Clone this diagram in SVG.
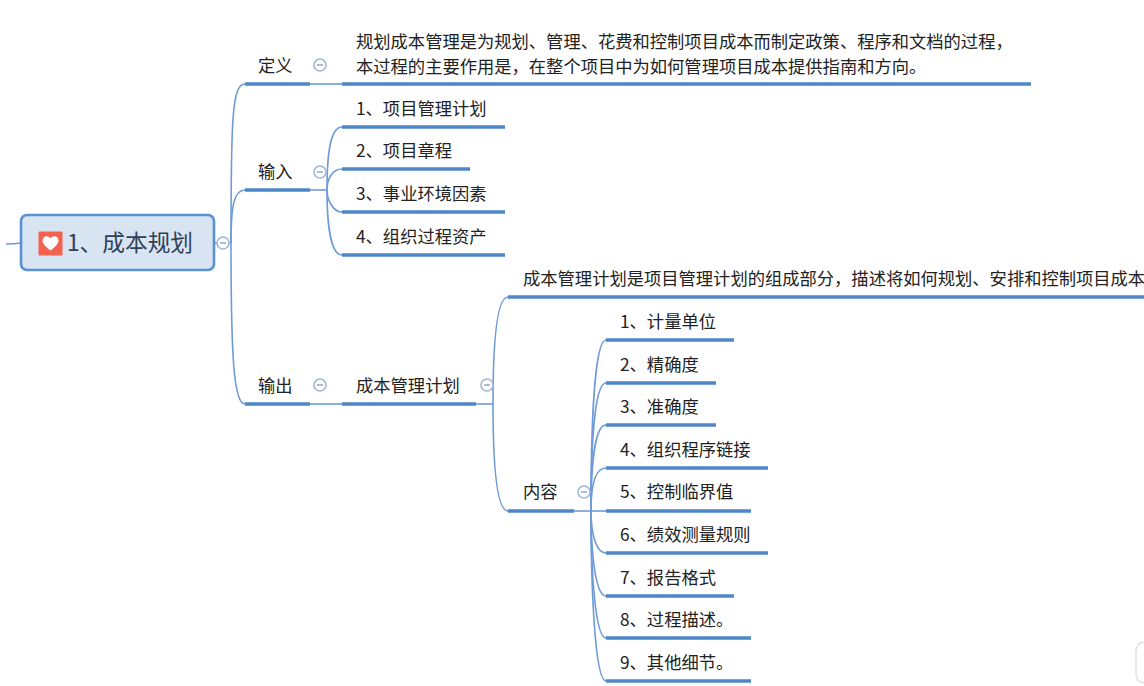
<svg xmlns="http://www.w3.org/2000/svg" width="1144" height="686" viewBox="0 0 1144 686">
<style>
text{font-family:"Noto Sans CJK SC","Liberation Sans",sans-serif;font-size:17.3px;fill:#222;}
.c{fill:none;stroke:#6f9bd6;stroke-width:1.6;}
.u{fill:none;stroke:#4d86c9;stroke-width:3.4;}
.m circle{fill:#fff;stroke:#9db7d8;stroke-width:1.6;}
.m line{stroke:#8aa0bc;stroke-width:1.4;}
</style>
<defs>
<g id="minus" class="m"><circle r="6"/><line x1="-3" x2="3" y1="0" y2="0"/></g>
</defs>
<g id="connectors">
<path class="c" d="M6 244 Q14 244 21 243"/>
<path class="c" d="M214 243H231"/>
<path class="c" d="M231 243C231 120 232 84 245 84"/>
<path class="c" d="M231 243C231 205 234 190 245 190"/>
<path class="c" d="M231 243C231 360 234 404 245 404"/>
<path class="c" d="M310 84H342"/>
<path class="c" d="M310 190H327"/>
<path class="c" d="M327 190C327 150 331 127 342 127"/>
<path class="c" d="M327 190C327 178 333 169 342 169"/>
<path class="c" d="M327 190C327 200 333 212 342 212"/>
<path class="c" d="M327 190C327 225 331 255 342 255"/>
<path class="c" d="M310 404H342"/>
<path class="c" d="M476 404H493"/>
<path class="c" d="M493 404C493 340 497 297 508 297"/>
<path class="c" d="M493 404C493 470 497 511 508 511"/>
<path class="c" d="M574 511H591"/>
<path class="c" d="M591 511C591 420 595 340 606 340"/>
<path class="c" d="M591 511C591 440 595 383 606 383"/>
<path class="c" d="M591 511C591 465 595 425 606 425"/>
<path class="c" d="M591 511C591 485 595 468 606 468"/>
<path class="c" d="M591 511H606"/>
<path class="c" d="M591 511C591 530 595 553 606 553"/>
<path class="c" d="M591 511C591 550 595 596 606 596"/>
<path class="c" d="M591 511C591 570 595 638 606 638"/>
<path class="c" d="M591 511C591 590 595 681 606 681"/>
</g>
<g id="root">
<rect x="21" y="215" width="193" height="55" rx="6" fill="#d9e4f2" stroke="#5a91d2" stroke-width="2.6"/>
<rect x="38.500" y="231.500" width="24" height="24" rx="1" fill="#f4614f"/>
<path d="M50.500 250.500C45 246 42.500 243.500 42.500 240.500C42.500 235.500 48.500 235 50.500 238.500C52.500 235 58.500 235.500 58.500 240.500C58.500 243.500 56 246 50.500 250.500Z" fill="#fff"/>
<text x="67" y="251" style="font-size:22.7px;fill:#2f4159">1、成本规划</text>
<use href="#minus" x="223" y="243"/>
</g>
<g id="n-def"><text x="258" y="72">定义</text><path class="u" d="M245 84H310"/><use href="#minus" x="320" y="65"/></g>
<g id="n-def-text"><text x="356" y="48">规划成本管理是为规划、管理、花费和控制项目成本而制定政策、程序和文档的过程，</text><text x="356" y="73">本过程的主要作用是，在整个项目中为如何管理项目成本提供指南和方向。</text><path class="u" d="M342 84H1031"/></g>
<g id="n-in"><text x="258" y="178">输入</text><path class="u" d="M245 190H310"/><use href="#minus" x="320" y="172"/></g>
<g id="n-in1"><text x="356" y="115">1、项目管理计划</text><path class="u" d="M342 127H505"/></g>
<g id="n-in2"><text x="356" y="157">2、项目章程</text><path class="u" d="M342 169H470"/></g>
<g id="n-in3"><text x="356" y="200">3、事业环境因素</text><path class="u" d="M342 212H505"/></g>
<g id="n-in4"><text x="356" y="243">4、组织过程资产</text><path class="u" d="M342 255H505"/></g>
<g id="n-out"><text x="258" y="392">输出</text><path class="u" d="M245 404H310"/><use href="#minus" x="320" y="385"/></g>
<g id="n-plan"><text x="356" y="392">成本管理计划</text><path class="u" d="M342 404H476"/><use href="#minus" x="487" y="385"/></g>
<g id="n-plan-text"><text x="523" y="285">成本管理计划是项目管理计划的组成部分，描述将如何规划、安排和控制项目成本</text><path class="u" d="M508 297H1144"/></g>
<g id="n-content"><text x="523" y="498">内容</text><path class="u" d="M508 511H574"/><use href="#minus" x="584" y="492"/></g>
<g id="n-c1"><text x="620" y="328">1、计量单位</text><path class="u" d="M606 340H734"/></g>
<g id="n-c2"><text x="620" y="371">2、精确度</text><path class="u" d="M606 383H716"/></g>
<g id="n-c3"><text x="620" y="413">3、准确度</text><path class="u" d="M606 425H716"/></g>
<g id="n-c4"><text x="620" y="456">4、组织程序链接</text><path class="u" d="M606 468H768"/></g>
<g id="n-c5"><text x="620" y="498">5、控制临界值</text><path class="u" d="M606 511H751"/></g>
<g id="n-c6"><text x="620" y="541">6、绩效测量规则</text><path class="u" d="M606 553H768"/></g>
<g id="n-c7"><text x="620" y="584">7、报告格式</text><path class="u" d="M606 596H734"/></g>
<g id="n-c8"><text x="620" y="626">8、过程描述。</text><path class="u" d="M606 638H751"/></g>
<g id="n-c9"><text x="620" y="669">9、其他细节。</text><path class="u" d="M606 681H751"/></g>
<path d="M1144 642Q1136 643 1136 652V674Q1136 682 1144 683" fill="none" stroke="#e2e2e2" stroke-width="1.5"/>
</svg>
